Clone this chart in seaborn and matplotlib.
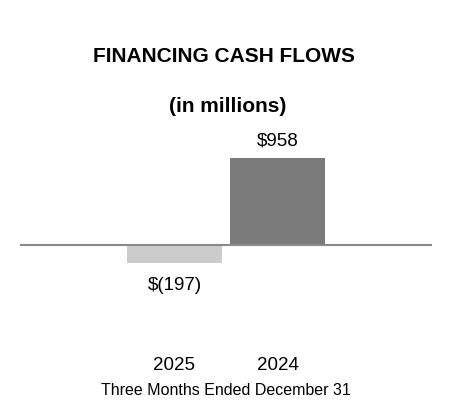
import matplotlib
matplotlib.use("Agg")
import matplotlib.pyplot as plt
import seaborn as sns
import pandas as pd

years = ["2025", "2024"]
values = [-197, 958]
value_labels = ["$(197)", "$958"]
bar_colors = ["#cccccc", "#7a7a7a"]
title = "FINANCING CASH FLOWS"
subtitle = "(in millions)"
xlabel = "Three Months Ended December 31"

sns.set_theme(style="white")
plt.rcParams['font.family'] = ['Liberation Sans', 'DejaVu Sans']
plt.rcParams['text.color'] = 'black'
plt.rcParams['xtick.color'] = 'black'
plt.rcParams['axes.labelcolor'] = 'black'

df = pd.DataFrame({"year": years, "value": values})

fig = plt.figure(figsize=(4.52, 4.2), dpi=100)
ax = fig.add_axes([20/452, 1 - 300/420, 412/452, 170/420])
sns.barplot(data=df, x="year", y="value", hue="year", palette=bar_colors,
            order=years, width=0.92, legend=False, ax=ax, saturation=1,
            linewidth=0)

px = 958 / 87.0
ax.set_ylim(-55 * px, 115 * px)
ax.set_xlim(-1.5, 2.5)
ax.axhline(0, color="#8a8a8a", lw=1.5, zorder=3)
for s in ax.spines.values():
    s.set_visible(False)
ax.set_yticks([])
ax.tick_params(axis="x", length=0, pad=41, labelsize=13.5)
ax.set_xlabel(xlabel, fontsize=11.5, labelpad=6.5)
ax.set_ylabel("")

for i, (v, lab) in enumerate(zip(values, value_labels)):
    if v >= 0:
        ax.annotate(lab, (i, v), xytext=(0, 6), textcoords="offset points",
                    ha="center", va="bottom", fontsize=13.5)
    else:
        ax.annotate(lab, (i, v), xytext=(0, -10), textcoords="offset points",
                    ha="center", va="top", fontsize=13.5)

fig.text(224/452, 1 - 57/420, title, ha="center", va="center",
         fontsize=15, fontweight="bold")
fig.text(228/452, 1 - 106/420, subtitle, ha="center", va="center",
         fontsize=15, fontweight="bold")

fig.savefig("out.png", dpi=100)
